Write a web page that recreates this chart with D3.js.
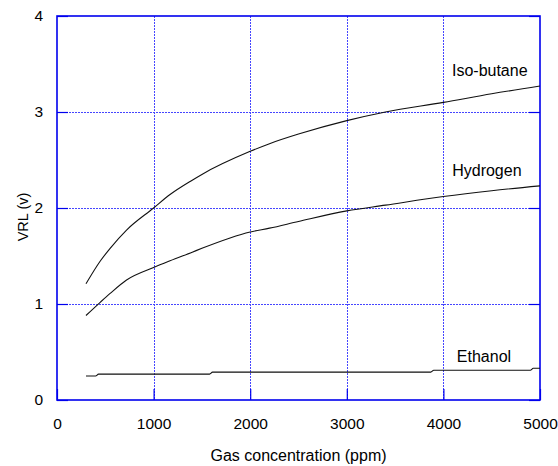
<!DOCTYPE html>
<html>
<head>
<meta charset="utf-8">
<script src="https://cdn.jsdelivr.net/npm/d3@7"></script>
<style>
  body { margin: 0; background: #fff; }
  text { font-family: "Liberation Sans", Arial, sans-serif; fill: #000; }
</style>
</head>
<body>
<div class="chart"></div>
<script>
// gas concentration samples (ppm)
const ppm = [300, 450, 550, 720, 1000, 1170, 1400, 1500, 2000, 2200, 2500, 3000, 3400, 4000, 4500, 5000];
const isoButane = [1.21, 1.45, 1.58, 1.77, 2.0, 2.14, 2.29, 2.35, 2.59, 2.67, 2.77, 2.91, 3.0, 3.10, 3.19, 3.27];
const hydrogen = [0.88, 1.02, 1.11, 1.25, 1.38, 1.45, 1.54, 1.58, 1.75, 1.79, 1.86, 1.97, 2.03, 2.12, 2.18, 2.23];

// ethanol is almost flat, with small steps
const ethanolPpm = [300, 400, 430, 1580, 1610, 3870, 3900, 4900, 4930, 5000];
const ethanol = [0.25, 0.25, 0.27, 0.27, 0.29, 0.29, 0.31, 0.31, 0.33, 0.33];

const xTicks = [0, 1000, 2000, 3000, 4000, 5000];
const yTicks = [0, 1, 2, 3, 4];

const margin = {top: 16, right: 18, bottom: 66, left: 57};
const outerWidth = 558;
const outerHeight = 466;
const width = outerWidth - margin.left - margin.right;
const height = outerHeight - margin.top - margin.bottom;

const frameColor = '#0000ee';
const gridColor = '#4646ff';

const svg = d3.select('.chart').append('svg')
    .attr('width', outerWidth)
    .attr('height', outerHeight);

const g = svg.append('g')
    .attr('transform', `translate(${margin.left}, ${margin.top})`);

const x = d3.scaleLinear().domain([0, 5000]).range([0, width]);
const y = d3.scaleLinear().domain([0, 4]).range([height, 0]);

// dotted grid
const grid = g.append('g')
    .attr('shape-rendering', 'crispEdges');

grid.selectAll('line.gx')
    .data(xTicks.slice(1, -1))
    .join('line')
    .attr('class', 'gx')
    .attr('x1', d => Math.round(x(d)) + 0.5).attr('x2', d => Math.round(x(d)) + 0.5)
    .attr('y1', 0).attr('y2', height)
    .attr('stroke', gridColor)
    .attr('stroke-width', 1)
    .attr('stroke-dasharray', '2,1');

grid.selectAll('line.gy')
    .data(yTicks.slice(1, -1))
    .join('line')
    .attr('class', 'gy')
    .attr('x1', 0).attr('x2', width)
    .attr('y1', d => Math.round(y(d)) + 0.5).attr('y2', d => Math.round(y(d)) + 0.5)
    .attr('stroke', gridColor)
    .attr('stroke-width', 1)
    .attr('stroke-dasharray', '2,1');

// Axes with inward ticks
const xAxis = g.append('g')
    .attr('transform', `translate(0, ${height})`)
    .call(d3.axisBottom(x).tickValues(xTicks).tickFormat(d3.format('d'))
        .tickSize(-11).tickPadding(18).tickSizeOuter(0));

const yAxis = g.append('g')
    .call(d3.axisLeft(y).tickValues(yTicks).tickFormat(d3.format('d'))
        .tickSize(-11).tickPadding(14).tickSizeOuter(0));

const yAxisRight = g.append('g')
    .attr('transform', `translate(${width}, 0)`)
    .call(d3.axisRight(y).tickValues(yTicks).tickSize(-11).tickFormat('').tickSizeOuter(0));

[xAxis, yAxis, yAxisRight].forEach(a => {
    a.select('.domain').remove();
    a.selectAll('line').attr('stroke', frameColor).attr('stroke-width', 1.2);
    a.selectAll('text')
        .style('font-size', '15.5px')
        .style('font-family', '"Liberation Sans", Arial, sans-serif')
        .attr('fill', '#000');
});

// frame
g.append('rect')
    .attr('width', width)
    .attr('height', height)
    .attr('fill', 'none')
    .attr('stroke', frameColor)
    .attr('stroke-width', 1.6);

// lines
const line = d3.line()
    .curve(d3.curveMonotoneX)
    .x(d => x(d[0]))
    .y(d => y(d[1]));

const series = [
    {name: 'Iso-butane', pts: d3.zip(ppm, isoButane), label: [4480, 3.37]},
    {name: 'Hydrogen', pts: d3.zip(ppm, hydrogen), label: [4450, 2.33]},
    {name: 'Ethanol', pts: d3.zip(ethanolPpm, ethanol), label: [4420, 0.40]}
];

g.selectAll('path.curve')
    .data(series)
    .join('path')
    .attr('class', 'curve')
    .attr('d', d => line(d.pts))
    .attr('fill', 'none')
    .attr('stroke', '#111')
    .attr('stroke-width', 1.1);

g.selectAll('text.lbl')
    .data(series)
    .join('text')
    .attr('class', 'lbl')
    .attr('x', d => x(d.label[0]))
    .attr('y', d => y(d.label[1]))
    .attr('text-anchor', 'middle')
    .style('font-size', '16px')
    .text(d => d.name);

// axis titles
svg.append('text')
    .attr('x', margin.left + width / 2)
    .attr('y', 461)
    .attr('text-anchor', 'middle')
    .style('font-size', '16px')
    .text('Gas concentration (ppm)');

svg.append('text')
    .attr('transform', 'translate(28, 217) rotate(-90)')
    .attr('text-anchor', 'middle')
    .style('font-size', '14.5px')
    .text('VRL (v)');
</script>
</body>
</html>
